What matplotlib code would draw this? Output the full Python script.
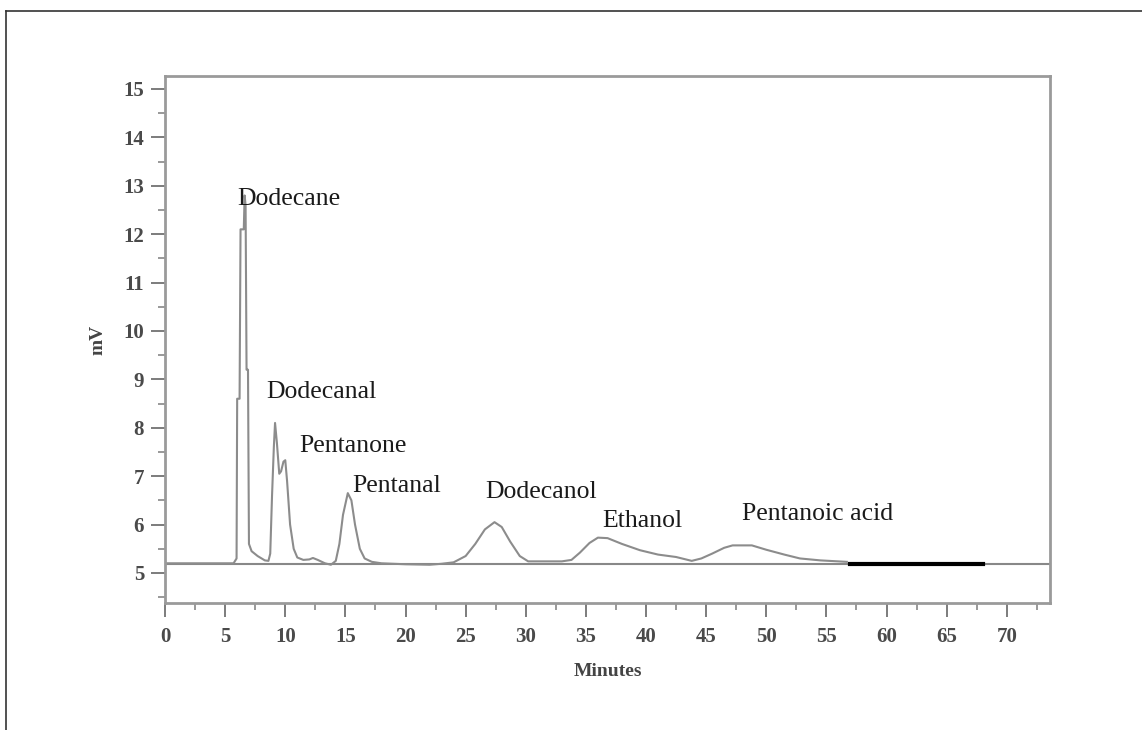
import matplotlib.pyplot as plt
from matplotlib.lines import Line2D
from matplotlib.ticker import MultipleLocator

# chromatogram trace (minutes, mV)
minutes = [0, 5.7, 5.95, 6.0, 6.2, 6.28, 6.55, 6.62, 6.7, 6.78, 6.9, 6.98, 7.2, 7.7,
           8.3, 8.6, 8.75, 8.9, 9.05, 9.15, 9.3, 9.5, 9.65, 9.85, 10.0, 10.15, 10.4,
           10.7, 11.0, 11.5, 12.0, 12.3, 12.7, 13.3, 13.8, 14.2, 14.5, 14.8, 15.2,
           15.5, 15.8, 16.2, 16.6, 17.2, 18.0, 20, 22, 23, 24, 25, 25.8, 26.6, 27.4,
           28.0, 28.7, 29.5, 30.2, 33.0, 33.8, 34.5, 35.3, 36.0, 36.8, 38.0, 39.5,
           41.0, 42.5, 43.8, 44.6, 45.5, 46.5, 47.2, 48.8, 50.0, 51.5, 52.8, 54.5, 56.7]
signal = [5.2, 5.2, 5.3, 8.6, 8.6, 12.1, 12.1, 12.8, 12.6, 9.2, 9.2, 5.6, 5.45, 5.35,
          5.26, 5.25, 5.4, 6.6, 7.6, 8.1, 7.7, 7.05, 7.1, 7.3, 7.33, 6.9, 6.0,
          5.5, 5.32, 5.27, 5.28, 5.31, 5.27, 5.2, 5.17, 5.25, 5.6, 6.2, 6.65,
          6.5, 6.0, 5.5, 5.3, 5.23, 5.2, 5.18, 5.17, 5.19, 5.22, 5.35, 5.6, 5.9, 6.05,
          5.95, 5.65, 5.35, 5.24, 5.24, 5.27, 5.42, 5.62, 5.73, 5.72, 5.6, 5.47,
          5.38, 5.33, 5.25, 5.3, 5.4, 5.52, 5.57, 5.57, 5.48, 5.38, 5.3, 5.26, 5.23]

baseline_mv = 5.19
dark_segment = [57, 68]

labels = ["Dodecane", "Dodecanal", "Pentanone", "Pentanal",
          "Dodecanol", "Ethanol", "Pentanoic acid"]
label_x = [6.05, 8.4, 11.2, 15.6, 26.6, 36.4, 48.0]
label_y = [12.6, 8.62, 7.5, 6.67, 6.55, 5.95, 6.1]

fig = plt.figure(figsize=(11.42, 7.30), dpi=100)
ax = fig.add_axes([0.1445, 0.174, 0.775, 0.722])

ax.axhline(baseline_mv, color='#888888', lw=1.5)
ax.plot(dark_segment, [baseline_mv, baseline_mv], color='black', lw=3)
ax.plot(minutes, signal, color='#8c8c8c', lw=1.5)

for name, tx, ty in zip(labels, label_x, label_y):
    ax.text(tx, ty, name, family='Liberation Serif', fontsize=18.5,
            color='#1a1a1a', va='baseline', ha='left')

ax.set_xlim(0, 73.6)
ax.set_ylim(4.38, 15.27)
ax.xaxis.set_major_locator(MultipleLocator(5))
ax.xaxis.set_minor_locator(MultipleLocator(2.5))
ax.yaxis.set_major_locator(MultipleLocator(1))
ax.yaxis.set_minor_locator(MultipleLocator(0.5))
ax.set_xticks(range(0, 71, 5))

for s in ax.spines.values():
    s.set_color('#9a9a9a')
    s.set_linewidth(2)

ax.tick_params(which='major', direction='out', length=10, width=1.2, color='#666666',
               labelsize=15, labelcolor='#4a4a4a')
ax.tick_params(axis='x', which='major', pad=7)
ax.tick_params(axis='y', which='major', pad=5)
ax.tick_params(which='minor', direction='out', length=5, width=1.2, color='#888888')
for lab in ax.get_xticklabels() + ax.get_yticklabels():
    lab.set_family('Liberation Serif')
    lab.set_fontweight('bold')

ax.set_ylabel('mV', family='Liberation Serif', fontweight='bold', fontsize=14,
              color='#444444', labelpad=12)
ax.set_xlabel('Minutes', family='Liberation Serif', fontweight='bold', fontsize=14,
              color='#444444', labelpad=12)

# outer frame: top and left edges only
fig.add_artist(Line2D([6 / 1142, 6 / 1142], [0, 1 - 11 / 730], transform=fig.transFigure,
                      color='#333333', lw=1.2))
fig.add_artist(Line2D([6 / 1142, 1], [1 - 11 / 730, 1 - 11 / 730], transform=fig.transFigure,
                      color='#333333', lw=1.2))

fig.savefig("out.png", dpi=100)
